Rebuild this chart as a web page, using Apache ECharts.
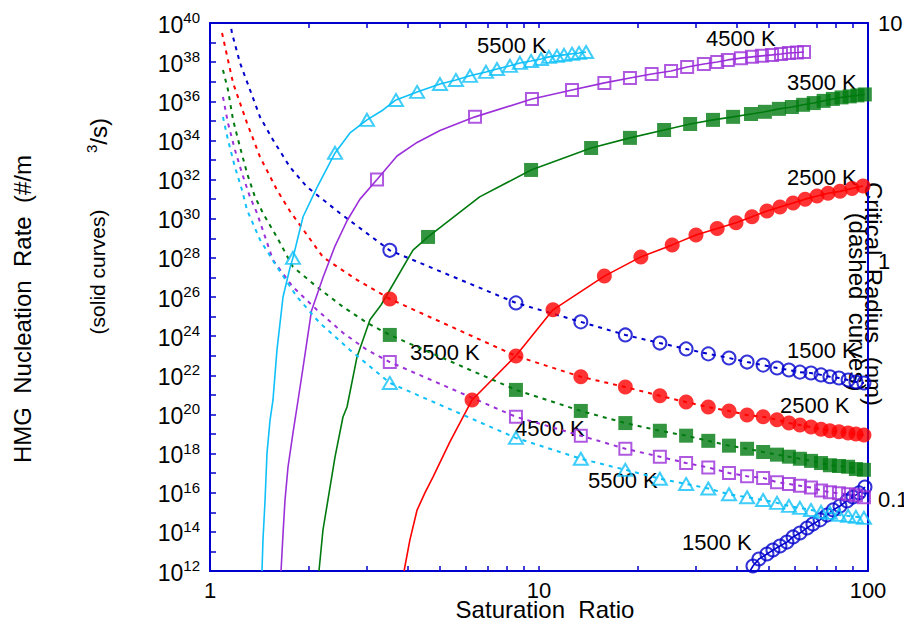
<!DOCTYPE html>
<html><head><meta charset="utf-8">
<script src="https://cdn.jsdelivr.net/npm/echarts@6/dist/echarts.min.js"></script>
<style>html,body{margin:0;padding:0;background:#fff}#c{width:904px;height:623px}</style>
</head><body><div id="c"></div>
<script>
// ---------- axis ticks / labels ----------
const xTickValues = [1,2,3,4,5,6,7,8,9,10,20,30,40,50,60,70,80,90,100];
const xLabelValues = [1,10,100];
const yLeftTickValues = [1e12,1e13,1e14,1e15,1e16,1e17,1e18,1e19,1e20,1e21,1e22,1e23,1e24,1e25,1e26,1e27,1e28,1e29,1e30,1e31,1e32,1e33,1e34,1e35,1e36,1e37,1e38,1e39,1e40];
const yLeftLabelValues = [1e12,1e14,1e16,1e18,1e20,1e22,1e24,1e26,1e28,1e30,1e32,1e34,1e36,1e38,1e40];
const yRightLabelValues = [0.1,1,10];

// ---------- nucleation rate (solid curves, left axis): [S, J] ----------
const rateMk5500 = [[1.787,1.0e28],[2.399,2.3e33],[3.0,1.12e35],[3.675,1.17e36],[4.26,3.0e36],[5.0,7.6e36],[5.59,1.23e37],[6.17,2.0e37],[6.90,3.16e37],[7.45,4.47e37],[8.16,6.5e37],[8.75,9.1e37],[9.46,1.15e38],[10.14,1.45e38],[10.72,1.86e38],[11.34,2.1e38],[11.91,2.34e38],[12.6,2.7e38],[13.23,2.95e38],[13.9,3.3e38]];
const rateExtra5500 = [[1.439,1e12],[1.449,4.0e13],[1.470,4.0e15],[1.490,1.0e18],[1.522,5.0e19],[1.554,5.5e20],[1.598,2.0e23],[1.667,1.0e26],[1.751,3.2e27],[1.918,1.26e30],[2.115,4.0e31],[2.664,2.4e34],[3.357,3.6e35]];

const rateMk4500 = [[3.219,1.0e32],[6.39,1.6e35],[9.52,1.3e36],[12.6,3.8e36],[15.8,8.7e36],[18.9,1.55e37],[22.0,2.5e37],[25.2,3.5e37],[28.2,5.6e37],[31.7,8.1e37],[34.8,1.02e38],[37.5,1.3e38],[41.1,1.6e38],[44.4,1.86e38],[47.6,2.1e38],[51.1,2.34e38],[54.4,2.6e38],[57.5,2.95e38],[60.8,3.1e38],[63.9,3.3e38]];
const rateExtra4500 = [[1.644,1e12],[1.667,7.9e13],[1.690,4.0e15],[1.726,2.0e17],[1.787,1.12e19],[1.851,5.0e20],[1.918,2.5e22],[2.035,2.0e25],[2.205,1.0e27],[2.399,4.0e28],[2.609,7.9e29],[2.857,1.0e31],[3.702,1.6e33],[4.26,7.9e33],[5.0,3.2e34]];

const rateMk3500 = [[4.6,1.17e29],[9.46,3.1e32],[14.4,4.1e33],[18.9,1.35e34],[24.0,3.4e34],[28.8,6.9e34],[33.8,1.12e35],[38.9,1.6e35],[44.1,2.24e35],[48.6,2.9e35],[53.6,4.1e35],[58.7,5.1e35],[63.5,6.6e35],[68.4,8.1e35],[73.3,1.05e36],[78.2,1.32e36],[83.1,1.58e36],[88.0,1.78e36],[92.9,2.0e36],[97.8,2.24e36]];
const rateExtra3500 = [[2.144,1e12],[2.205,1.26e14],[2.399,6.8e17],[2.536,7.4e19],[2.609,2.4e20],[2.798,8.7e22],[3.064,6.8e24],[3.31,3.9e25],[4.14,2.5e28],[6.6,1.3e31]];

const rateMk2500 = [[6.26,5.5e20],[11.03,2.2e25],[15.8,1.17e27],[20.4,1.12e28],[25.4,4.6e28],[30.0,1.48e29],[34.8,3.2e29],[39.7,6.3e29],[44.4,1.26e30],[49.3,2.5e30],[54.0,4.0e30],[59.2,6.3e30],[64.4,1.0e31],[70.0,1.45e31],[75.6,2.0e31],[82.2,2.5e31],[89.4,3.5e31],[96.6,4.7e31]];
const rateExtra2500 = [[3.889,1e12],[4.05,3.8e13],[4.26,1.3e15],[4.50,9.8e15],[4.76,6.3e16],[5.36,4.0e18],[8.51,1.0e23]];

const rateMk1500 = [[44.7,1.8e12],[46.6,4.1e12],[49.3,7.4e12],[51.4,1.17e13],[54.0,1.9e13],[56.7,3.0e13],[59.2,5.5e13],[62.1,8.7e13],[65.3,1.58e14],[68.0,2.5e14],[71.5,4.1e14],[75.1,7.2e14],[78.4,1.32e15],[82.2,2.1e15],[86.3,3.8e15],[90.0,6.0e15],[93.9,9.8e15],[97.9,1.95e16]];
const rateExtra1500 = [[43.8,1e12]];

// ---------- critical radius (dashed curves, right axis, nm) ----------
const radiusMkS = [3.52,8.51,13.4,18.3,23.3,28.0,32.7,37.8,42.9,48.0,52.9,57.5,62.1,67.1,72.0,76.6,81.6,87.0,91.9,97.2];
const radiusMk1500 = [1.11,0.668,0.556,0.490,0.453,0.428,0.408,0.392,0.377,0.366,0.356,0.349,0.342,0.339,0.333,0.327,0.323,0.317,0.311,0.308];
const radiusMk2500 = [0.694,0.400,0.327,0.296,0.272,0.256,0.244,0.235,0.226,0.222,0.216,0.209,0.205,0.201,0.197,0.194,0.192,0.190,0.188,0.186];
const radiusMk3500 = [0.490,0.288,0.235,0.209,0.194,0.185,0.176,0.168,0.163,0.158,0.154,0.151,0.148,0.145,0.142,0.139,0.138,0.137,0.134,0.133];
const radiusMk4500 = [0.377,0.222,0.185,0.163,0.151,0.142,0.136,0.129,0.125,0.123,0.118,0.116,0.114,0.112,0.109,0.107,0.106,0.105,0.104,0.102];
const radiusMk5500 = [0.308,0.181,0.148,0.133,0.122,0.116,0.111,0.105,0.102,0.0993,0.0966,0.0938,0.092,0.0902,0.0885,0.0877,0.086,0.0852,0.0844,0.0836];
const radiusHead1500 = [[1.15,10.3],[1.166,9.08],[1.234,6.79],[1.323,5.24],[1.419,4.03],[1.554,3.23],[1.751,2.48],[1.971,2.05],[2.484,1.59]];
const radiusHead2500 = [[1.088,9.08],[1.175,5.60],[1.296,3.80],[1.419,2.74],[1.598,1.99],[1.751,1.62],[2.205,1.04],[2.798,0.834]];
const radiusHead3500 = [[1.095,6.35],[1.134,5.24],[1.175,3.92],[1.234,3.01],[1.296,2.34],[1.370,1.86],[1.449,1.59],[1.598,1.26],[1.787,0.946],[2.115,0.779],[2.536,0.643],[3.00,0.551]];
const radiusHead4500 = [[1.095,4.89],[1.134,3.80],[1.191,2.93],[1.251,2.34],[1.323,1.86],[1.390,1.59],[1.554,1.01],[1.787,0.779],[2.115,0.624],[2.536,0.500],[3.0,0.424]];
const radiusHead5500 = [[1.095,4.03],[1.134,3.23],[1.191,2.48],[1.251,1.99],[1.296,1.64],[1.419,1.23],[1.598,0.946],[1.838,0.708],[2.154,0.551],[2.662,0.424]];

// ---------- curve labels ----------
const curveLabels = [
  ['5500 K',477,45],['4500 K',706,38],['3500 K',787,82],['2500 K',787,177],
  ['1500 K',787,350],['2500 K',780,405],['3500 K',410,352],['4500 K',515,428],
  ['5500 K',588,480],['1500 K',682,542]
];

// ---------- styles ----------
const AXIS = '#0000CD';
const FONT = 'Liberation Sans, Arial, Helvetica, sans-serif';
const C1500 = '#0000CD', C2500 = '#FF0000', C3500 = '#007A0F', C4500 = '#9B30D9', C5500 = '#10C0F8';

function merge(a, b) { return a.concat(b).sort((p, q) => p[0] - q[0]); }
function zipS(s, r) { return s.map((v, i) => [v, r[i]]); }

function solid(data, color) {
  return {type:'line', xAxisIndex:0, yAxisIndex:0, data, symbol:'none', showSymbol:false,
    smooth:false, lineStyle:{color, width:1.6}, silent:true, z:2};
}
function dashed(data, color) {
  return {type:'line', xAxisIndex:0, yAxisIndex:1, data, symbol:'none', showSymbol:false,
    smooth:false, lineStyle:{color, width:2, type:[4,5]}, silent:true, z:2};
}
function marks(data, yIdx, symbol, size, color, filled) {
  return {type:'scatter', xAxisIndex:0, yAxisIndex:yIdx, data, symbol, symbolSize:size, silent:true, z:3,
    itemStyle: filled ? {color, borderWidth:0} : {color:'rgba(0,0,0,0)', borderColor:color, borderWidth:2}};
}

const sets = [
  {mk:rateMk1500, ex:rateExtra1500, rh:radiusHead1500, rm:radiusMk1500, c:C1500, sym:'circle', size:13, fill:false},
  {mk:rateMk2500, ex:rateExtra2500, rh:radiusHead2500, rm:radiusMk2500, c:C2500, sym:'circle', size:15, fill:true},
  {mk:rateMk3500, ex:rateExtra3500, rh:radiusHead3500, rm:radiusMk3500, c:C3500, sym:'rect', size:14, fill:true},
  {mk:rateMk4500, ex:rateExtra4500, rh:radiusHead4500, rm:radiusMk4500, c:C4500, sym:'rect', size:12, fill:false},
  {mk:rateMk5500, ex:rateExtra5500, rh:radiusHead5500, rm:radiusMk5500, c:C5500, sym:'triangle', size:[14,12], fill:false}
];
const series = [];
sets.forEach(s => {
  const dm = zipS(radiusMkS, s.rm);
  series.push(solid(merge(s.ex, s.mk), s.c));
  series.push(marks(s.mk, 0, s.sym, s.size, s.c, s.fill));
  series.push(dashed(merge(s.rh, dm), s.c));
  series.push(marks(dm, 1, s.sym, s.size, s.c, s.fill));
});

const graphics = curveLabels.map(l => ({type:'text', x:l[1], y:l[2], silent:true,
  style:{text:l[0], font:'22px ' + FONT, fill:'#000', align:'left', verticalAlign:'middle'}}));
graphics.push(
  {type:'text', x:22, y:155, rotation:Math.PI/2, silent:true,
   style:{text:'HMG  Nucleation  Rate  (#/m', font:'24px ' + FONT, fill:'#000', align:'right', verticalAlign:'middle'}},
  {type:'text', x:98, y:153, rotation:Math.PI/2, silent:true,
   style:{text:'{s|3}{b|/s)}', align:'left', verticalAlign:'middle',
     rich:{s:{font:'15px ' + FONT, fill:'#000', verticalAlign:'top', lineHeight:15}, b:{font:'24px ' + FONT, fill:'#000', lineHeight:28}}}},
  {type:'text', x:97, y:272, rotation:Math.PI/2, silent:true,
   style:{text:'(solid curves)', font:'21px ' + FONT, fill:'#000', align:'center', verticalAlign:'middle'}},
  {type:'text', x:873, y:294, rotation:-Math.PI/2, silent:true,
   style:{text:'Critical  Radius  (nm)', font:'24px ' + FONT, fill:'#000', align:'center', verticalAlign:'middle'}},
  {type:'text', x:857, y:302, rotation:-Math.PI/2, silent:true,
   style:{text:'(dashed  curves)', font:'24px ' + FONT, fill:'#000', align:'center', verticalAlign:'middle'}},
  {type:'text', x:545, y:609, silent:true,
   style:{text:'Saturation  Ratio', font:'24px ' + FONT, fill:'#000', align:'center', verticalAlign:'middle'}}
);

const xAxisBase = {
  type:'log', logBase:10, min:1, max:100,
  axisLine:{show:true, lineStyle:{color:AXIS, width:2}},
  axisTick:{show:true, inside:true, length:5, customValues:xTickValues, lineStyle:{color:AXIS, width:1.5}},
  splitLine:{show:false}, minorTick:{show:false}
};

const option = {
  animation:false,
  backgroundColor:'#fff',
  grid:{left:210, right:36, top:23, bottom:52, containLabel:false, outerBoundsMode:'none'},
  xAxis:[
    Object.assign({}, xAxisBase, {position:'bottom',
      axisLabel:{show:true, customValues:xLabelValues, fontSize:22, fontFamily:FONT, color:'#000', margin:8,
        formatter: v => String(Math.round(v))}}),
    Object.assign({}, xAxisBase, {position:'top', axisLabel:{show:false}})
  ],
  yAxis:[
    {type:'log', logBase:10, min:1e12, max:1e40, position:'left',
     axisLine:{show:true, lineStyle:{color:AXIS, width:2}},
     axisTick:{show:true, inside:true, length:6, customValues:yLeftTickValues, lineStyle:{color:AXIS, width:1.5}},
     splitLine:{show:false},
     axisLabel:{show:true, customValues:yLeftLabelValues, margin:10, color:'#000',
       formatter: v => '{b|10}{s|' + Math.round(Math.log10(v)) + '}',
       rich:{b:{fontSize:23, fontFamily:FONT, color:'#000', lineHeight:26, verticalAlign:'bottom'},
             s:{fontSize:15, fontFamily:FONT, color:'#000', lineHeight:15, verticalAlign:'top'}}}},
    {type:'log', logBase:10, min:0.05, max:10, position:'right',
     axisLine:{show:true, lineStyle:{color:AXIS, width:2}},
     axisTick:{show:false}, splitLine:{show:false},
     axisLabel:{show:true, customValues:yRightLabelValues, margin:10, fontSize:22, fontFamily:FONT, color:'#000',
       formatter: v => (v < 1 ? String(Math.round(v*10)/10) : String(Math.round(v)))}}
  ],
  series,
  graphic: graphics
};

const chart = echarts.init(document.getElementById('c'), null, {renderer:'svg'});
chart.setOption(option);
</script></body></html>
